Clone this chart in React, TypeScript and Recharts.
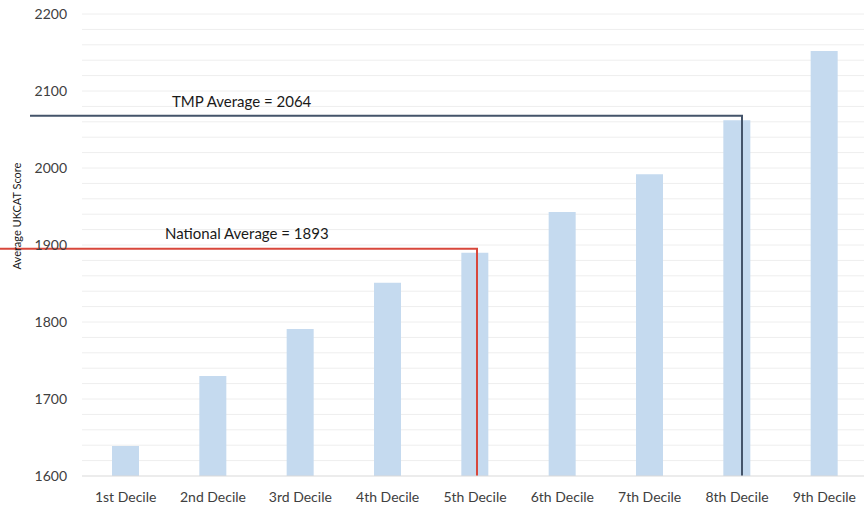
import React from "react";
import { BarChart, Bar, XAxis, YAxis, ReferenceLine } from "recharts";

// ─── Data ─────────────────────────────────────────────────────────────────────
const DECILES = [
  "1st Decile",
  "2nd Decile",
  "3rd Decile",
  "4th Decile",
  "5th Decile",
  "6th Decile",
  "7th Decile",
  "8th Decile",
  "9th Decile",
];
const SCORES = [1639, 1730, 1791, 1851, 1890, 1943, 1992, 2062, 2152];
const Y_TICKS = [1600, 1700, 1800, 1900, 2000, 2100, 2200];
const GRID_VALUES = [
  1620, 1640, 1660, 1680, 1700, 1720, 1740, 1760, 1780, 1800, 1820, 1840, 1860,
  1880, 1900, 1920, 1940, 1960, 1980, 2000, 2020, 2040, 2060, 2080, 2100, 2120,
  2140, 2160, 2180, 2200,
];

const NATIONAL_AVG = 1893;
const NATIONAL_LINE_Y = 1895;
const TMP_AVG = 2064;
const TMP_LINE_Y = 2068;

const data = DECILES.map((d, i) => ({ decile: d, score: SCORES[i] }));

// ─── Leader line: horizontal from the left, then down at a decile ─────────────
const Leader = (props: any) => {
  const { x1, y1, y2, stroke, startX, dx, label, labelX, labelDy } = props;
  return (
    <g>
      <path
        d={`M${startX},${y1}H${x1 + dx}V${y2}`}
        fill="none"
        stroke={stroke}
        strokeWidth={2}
      />
      <text x={labelX} y={y1 + labelDy} fontSize={15} fill="#1a1a1a">
        {label}
      </text>
    </g>
  );
};

// ─── Rotated y-axis title ─────────────────────────────────────────────────────
const YTitle = ({ viewBox }: any) => {
  const cx = 16;
  const cy = viewBox.y + viewBox.height / 2 - 29;
  return (
    <text
      transform={`translate(${cx},${cy}) rotate(-90)`}
      textAnchor="middle"
      dominantBaseline="central"
      fontSize={11}
      fill="#1a1a1a"
    >
      Average UKCAT Score
    </text>
  );
};

const App: React.FC = () => {
  return (
    <div
      style={{
        position: "absolute",
        left: 0,
        top: 0,
        width: 864,
        height: 505,
        overflow: "hidden",
        background: "#fff",
        fontFamily: "Lato, 'Open Sans', sans-serif",
      }}
    >
      <BarChart
        width={880}
        height={505}
        data={data}
        margin={{ top: 14, right: 12, bottom: 0, left: 0 }}
        barSize={27}
      >
        {/* minor gridlines every 20 points */}
        {GRID_VALUES.map((v) => (
          <ReferenceLine
            key={v}
            y={v}
            stroke="#eeeeee"
            strokeWidth={1}
            {...({ zIndex: -50 } as any)}
          />
        ))}
        <XAxis
          dataKey="decile"
          axisLine={{ stroke: "#d9d9d9" }}
          tickLine={false}
          tickMargin={10}
          height={29}
          interval={0}
          tick={{ fontSize: 14, fill: "#404040" }}
        />
        <YAxis
          domain={[1600, 2200]}
          ticks={Y_TICKS}
          width={82}
          axisLine={false}
          tickLine={false}
          tickMargin={9}
          tick={{ fontSize: 14, fill: "#404040" }}
          label={{ content: <YTitle /> }}
        />
        <Bar dataKey="score" fill="#c5daef" isAnimationActive={false} />
        <ReferenceLine
          ifOverflow="visible"
          segment={[
            { x: "5th Decile", y: NATIONAL_LINE_Y },
            { x: "5th Decile", y: 1600 },
          ]}
          stroke="#d8473b"
          shape={(p: any) => (
            <Leader
              {...p}
              stroke="#d8473b"
              startX={0}
              dx={2}
              label={`National Average = ${NATIONAL_AVG}`}
              labelX={165}
              labelDy={-10}
            />
          )}
        />
        <ReferenceLine
          ifOverflow="visible"
          segment={[
            { x: "8th Decile", y: TMP_LINE_Y },
            { x: "8th Decile", y: 1600 },
          ]}
          stroke="#44546a"
          shape={(p: any) => (
            <Leader
              {...p}
              stroke="#44546a"
              startX={30}
              dx={5}
              label={`TMP Average = ${TMP_AVG}`}
              labelX={172}
              labelDy={-9}
            />
          )}
        />
      </BarChart>
    </div>
  );
};

export default App;
